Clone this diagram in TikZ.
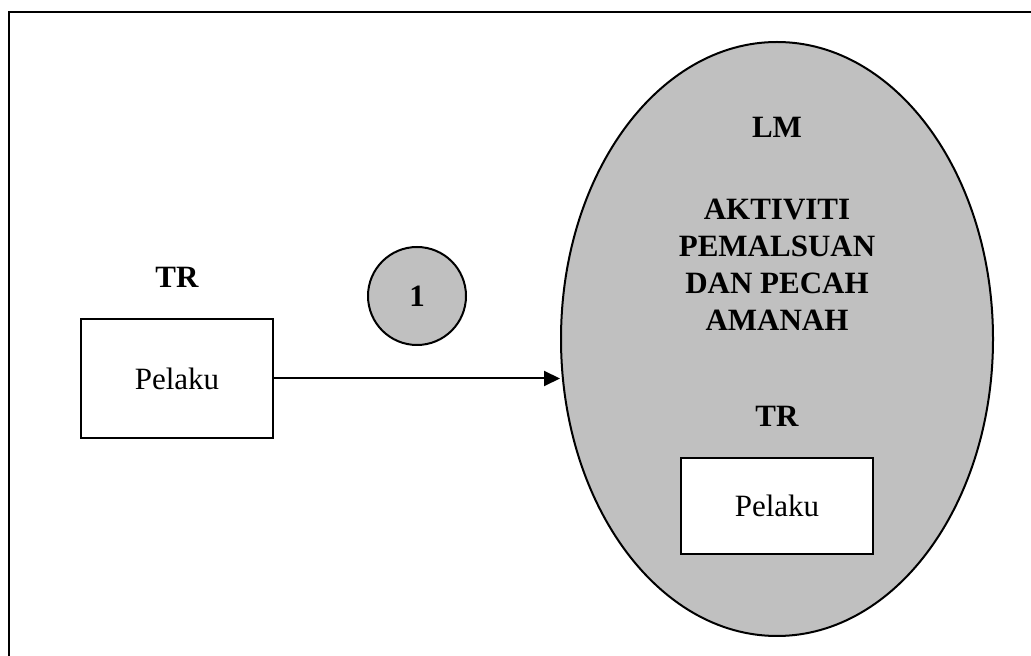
\documentclass[tikz,border=0pt]{standalone}
\usepackage{fontspec}
\setmainfont{Liberation Serif}
\usetikzlibrary{shapes.geometric,arrows.meta}
\definecolor{fillgray}{RGB}{192,192,192}
\tikzset{
  lbl/.style={font=\fontsize{31}{37}\selectfont\bfseries, align=center, inner sep=0pt},
  actor/.style={draw, line width=2pt, fill=white, minimum width=192pt, minimum height=119pt, inner sep=0pt, font=\fontsize{31}{37}\selectfont},
  procnum/.style={circle, draw, line width=2pt, fill=fillgray, minimum size=98pt, inner sep=0pt, font=\fontsize{31}{37}\selectfont\bfseries},
  conn/.style={line width=2pt, -{Triangle[length=16pt,width=15pt]}}
}
\begin{document}
\begin{tikzpicture}[x=1pt,y=1pt]
\useasboundingbox (0,0) rectangle (1031,656);
\draw[line width=2.5pt] (9,-20) -- (9,644) -- (1050,644);
\node[ellipse, draw, line width=2pt, fill=fillgray, minimum width=432pt, minimum height=594pt, inner sep=0pt] (ell) at (777,317) {};
\node[lbl] (lm) at (777,529) {LM};
\node[lbl] (act) at (777,391) {AKTIVITI\\PEMALSUAN\\DAN PECAH\\AMANAH};
\node[lbl] (tr2) at (777,240) {TR};
\node[actor, minimum height=96pt] (pel2) at (777,150) {Pelaku};
\node[lbl] (tr1) at (177,379) {TR};
\node[actor] (pel1) at (177,277.5) {Pelaku};
\node[procnum] (p1) at (417,360) {1};
\draw[conn] (pel1.east) -- (pel1.east -| ell.west);
\end{tikzpicture}
\end{document}
